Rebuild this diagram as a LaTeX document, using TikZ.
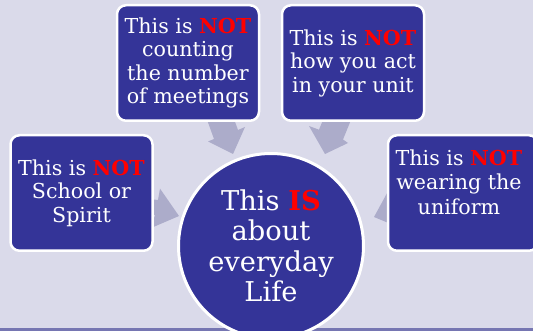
\documentclass[tikz,border=0pt]{standalone}
\usepackage{fontspec}
\setmainfont{DejaVu Serif}
\definecolor{bg}{RGB}{218,218,234}
\definecolor{boxblue}{RGB}{52,52,152}
\definecolor{arrowgray}{RGB}{172,172,202}
\definecolor{bandblue}{RGB}{118,118,178}
\definecolor{notred}{RGB}{255,0,0}
\newcommand{\NOT}{\textbf{\textcolor{notred}{NOT}}}
\tikzset{
  boxnode/.style={draw=white, line width=2.5pt, fill=boxblue, rounded corners=9pt,
    minimum width=142pt, minimum height=115.5pt, inner sep=0pt, text=white,
    align=center, font=\fontsize{20.6}{23.5}\selectfont},
  txtnode/.style={text=white, align=center, inner sep=0pt, font=\fontsize{20.6}{24.5}\selectfont},
  circnode/.style={circle, draw=white, line width=3pt, fill=boxblue, minimum size=185pt,
    inner sep=0pt, text=white, align=center, font=\fontsize{27.3}{30.5}\selectfont},
  blockarrow/.style={fill=arrowgray, draw=none}
}
\begin{document}
\begin{tikzpicture}[x=1pt,y=-1pt]
\useasboundingbox (0,0) rectangle (533,331);
\clip (0,0) rectangle (533,331);
\fill[bg] (0,0) rectangle (533,331);
\fill[bandblue] (0,328) rectangle (533,331);
% block arrows (behind boxes)
\fill[blockarrow] (197,92) -- (214,139) -- (208,141.5) -- (233,154) -- (245,127) -- (238,130) -- (221,83) -- cycle;
\fill[blockarrow] (362,93) -- (343,139.5) -- (348,143) -- (325,154) -- (309,126) -- (319,129.7) -- (338,83) -- cycle;
\fill[blockarrow] (110,195) -- (158,200) -- (160,188.6) -- (179,216) -- (151,228) -- (155,215) -- (105,210) -- cycle;
\fill[blockarrow] (440,195) -- (393,198) -- (389,189.5) -- (374,217) -- (403,229) -- (398,216) -- (445,210) -- cycle;
% boxes
\node[boxnode] (b1) at (81.5,193) {This is \NOT\\School or\\Spirit};
\node[boxnode] (b2) at (188,63) {This is \NOT\\counting\\the number\\of meetings};
\node[boxnode] (b3) at (353,63) {This is \NOT\\how you act\\in your unit};
\node[boxnode, minimum width=150pt] (b4) at (463,193) {};
\node[txtnode] (t4) at (459,182) {This is \NOT\\wearing the\\uniform};
\node[circnode] (c) at (271,246) {This \textbf{\textcolor{notred}{IS}}\\about\\everyday\\Life};
\end{tikzpicture}
\end{document}
